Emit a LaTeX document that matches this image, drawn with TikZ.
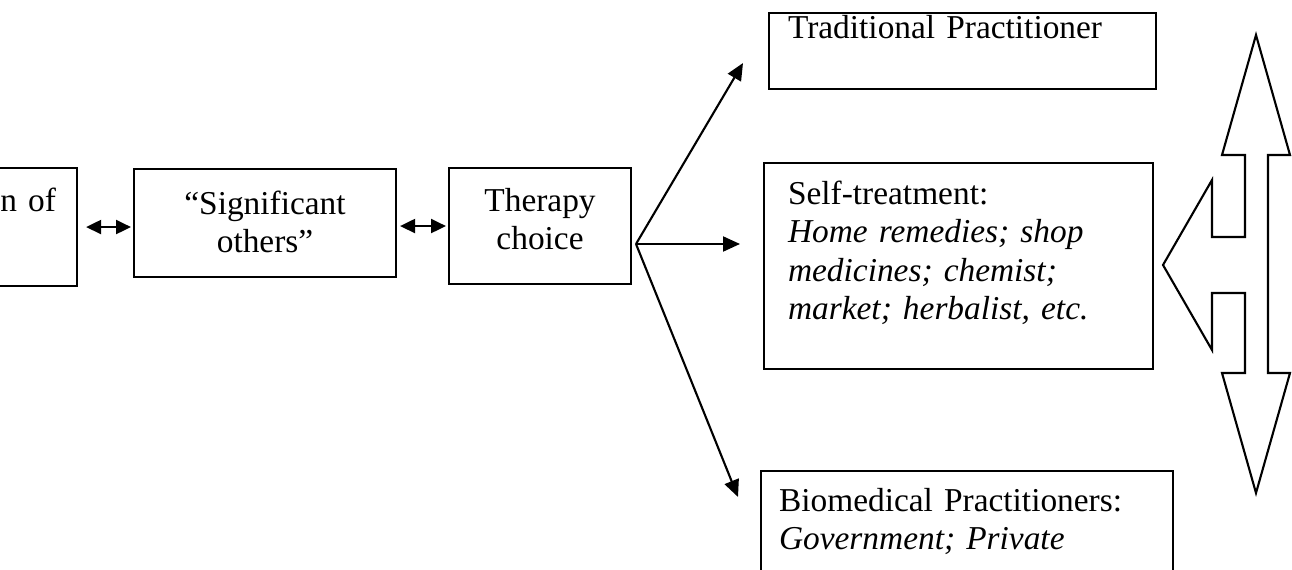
\documentclass[tikz,border=0pt]{standalone}
\usepackage{fontspec}
\setmainfont{Liberation Serif}
\usetikzlibrary{positioning}
\usetikzlibrary{arrows.meta}
\tikzstyle{box} = [rectangle, draw=black, line width=1.2pt, anchor=north west, inner ysep=0pt, font=\fontsize{19}{22}\selectfont]
\tikzstyle{arrow} = [line width=1.2pt, -{Triangle[length=0.34cm, width=0.3cm]}]
\tikzstyle{dblarrow} = [line width=1.2pt, {Triangle[length=0.3cm, width=0.28cm]}-{Triangle[length=0.3cm, width=0.28cm]}]
\tikzstyle{hollow} = [line width=1.2pt, line join=miter]

\begin{document}
\begin{tikzpicture}[x=0.02cm, y=-0.02cm]
    \useasboundingbox (0,0) rectangle (1292,570);
    \node (percep) [box, text width=1.48cm, inner xsep=0.42cm, text height=0.86cm, text depth=1.5cm, align=right] at (-40,167) {n of};
    \node (others) [box, text width=5.24cm, inner xsep=0pt, text height=0.9cm, text depth=1.26cm, align=center] at (133,168) {“Significant\\others”};
    \node (therapy) [box, text width=3.64cm, inner xsep=0pt, text height=0.86cm, text depth=1.46cm, align=center] at (448,167) {Therapy\\choice};
    \node (trad) [box, text width=6.98cm, inner xsep=0.38cm, text height=0.5cm, text depth=1.02cm, align=left] at (768,12) {Traditional Practitioner};
    \node (self) [box, text width=6.82cm, inner xsep=0.48cm, text height=0.82cm, text depth=3.3cm, align=left] at (763,162) {Self-treatment:\\{\itshape Home remedies; shop}\\{\itshape medicines; chemist;}\\{\itshape market; herbalist, etc.}};
    \node (bio) [box, text width=7.52cm, inner xsep=0.36cm, text height=0.8cm, text depth=1.8cm, align=left] at (760,470) {Biomedical Practitioners:\\{\itshape Government; Private}};
    \coordinate (fan) at (636,244);
    \coordinate (selfin) at (fan -| self.west);
    \draw [dblarrow, shorten <=0.16cm, shorten >=0.04cm] (percep.east) -- (percep.east -| others.west);
    \draw [dblarrow, shorten <=0.06cm, shorten >=0.04cm] (therapy.west -| others.east) -- (therapy.west);
    \draw [arrow] (fan) -- ([xshift=-0.5cm, yshift=-0.24cm]trad.west);
    \draw [arrow] (fan) -- ([xshift=-0.46cm]selfin);
    \draw [arrow] (fan) -- ([xshift=-0.44cm, yshift=-0.54cm]bio.north west);
    % hollow double arrow with a branch to the left
    \draw [hollow] (1256,35) -- (1290,155) -- (1268,155) -- (1268,373) -- (1290,373) -- (1256,493) -- (1222,373) -- (1245,373) -- (1245,293) -- (1212,293) -- (1212,350) -- (1163,265) -- (1212,180) -- (1212,237) -- (1245,237) -- (1245,155) -- (1222,155) -- cycle;
\end{tikzpicture}
\end{document}
